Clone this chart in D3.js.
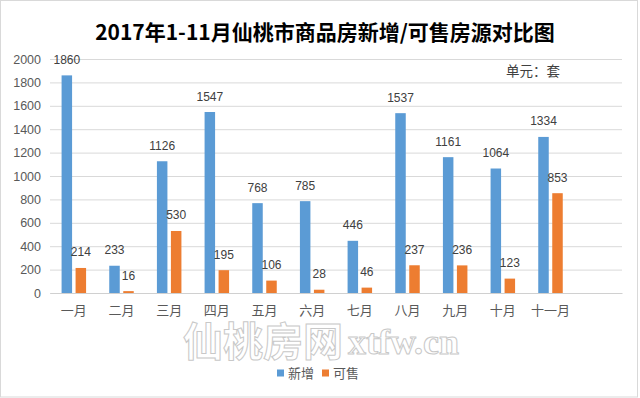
<!DOCTYPE html>
<html>
<head>
<meta charset="utf-8">
<script src="https://cdn.jsdelivr.net/npm/d3@7"></script>
<style>
  body { margin: 0; background: #fff; }
  svg { display: block; }
  text { font-family: "Liberation Sans", "Noto Sans CJK SC", sans-serif; }
</style>
</head>
<body>
<svg id="chart" width="640" height="398"></svg>
<script>
// data
const months = ["一月", "二月", "三月", "四月", "五月", "六月", "七月", "八月", "九月", "十月", "十一月", ""];
const newSupply = [1860, 233, 1126, 1547, 768, 785, 446, 1537, 1161, 1064, 1334];
const forSale = [214, 16, 530, 195, 106, 28, 46, 237, 236, 123, 853];
const yTicks = [0, 200, 400, 600, 800, 1000, 1200, 1400, 1600, 1800, 2000];
const seriesNames = ["新增", "可售"];
const colors = ["#5B9BD5", "#ED7D31"];

const svg = d3.select("#chart");

svg.append("rect")
    .attr("x", 0.5).attr("y", 0.5)
    .attr("width", 637).attr("height", 396.5)
    .attr("fill", "#fff")
    .attr("stroke", "#d9d9d9");

const margin = { top: 59, left: 50 },
      width = 572,
      height = 234;

const x = d3.scaleBand()
    .domain(months)
    .range([0, width]);

const y = d3.scaleLinear()
    .domain([0, 2000])
    .range([height, 0]);

const g = svg.append("g")
    .attr("transform", `translate(${margin.left},${margin.top})`);

// gridlines + y labels
const yAxis = g.append("g")
    .call(d3.axisLeft(y).tickValues(yTicks).tickFormat(d3.format("d")).tickSize(-width).tickPadding(9));
yAxis.select(".domain").remove();
yAxis.selectAll(".tick line").attr("stroke", "#d9d9d9");
yAxis.selectAll(".tick text")
    .attr("fill", "#595959")
    .style("font-size", "12.5px");

// x axis
const xAxis = g.append("g")
    .attr("transform", `translate(0,${height})`)
    .call(d3.axisBottom(x).tickSize(0).tickPadding(13));
xAxis.select(".domain").attr("stroke", "#d0d0d0");
xAxis.selectAll(".tick text")
    .attr("fill", "#595959")
    .style("font-family", "'Noto Sans CJK SC', sans-serif")
    .style("font-size", "13px");

const barW = 10.5, off = 7;
const series = [newSupply, forSale];

series.forEach((vals, i) => {
    const cx = (d, j) => x(months[j]) + x.bandwidth() / 2 + (i === 0 ? -off : off);

    g.selectAll(".bar" + i)
        .data(vals)
        .enter().append("rect")
        .attr("x", (d, j) => cx(d, j) - barW / 2)
        .attr("y", d => y(d))
        .attr("width", barW)
        .attr("height", d => height - y(d))
        .attr("fill", colors[i]);

    g.selectAll(".label" + i)
        .data(vals)
        .enter().append("text")
        .attr("x", (d, j) => cx(d, j))
        .attr("y", d => y(d) - 11.5)
        .attr("text-anchor", "middle")
        .attr("fill", "#404040")
        .style("font-size", "12px")
        .text(d => d);
});

// title
svg.append("text")
    .attr("x", 325)
    .attr("y", 40)
    .attr("text-anchor", "middle")
    .attr("fill", "#000")
    .style("font-family", "'Noto Sans CJK SC', sans-serif")
    .style("font-weight", "700")
    .style("font-size", "21px")
    .text("2017年1-11月仙桃市商品房新增/可售房源对比图");

// unit
svg.append("text")
    .attr("x", 533)
    .attr("y", 75.5)
    .attr("text-anchor", "middle")
    .attr("fill", "#404040")
    .style("font-family", "'Noto Sans CJK SC', sans-serif")
    .style("font-size", "13.5px")
    .text("单元：套");

// watermark
svg.append("text")
    .attr("x", 183)
    .attr("y", 356)
    .attr("fill", "#fff")
    .attr("stroke", "#c8c8c8")
    .attr("stroke-width", 1)
    .style("font-family", "'Noto Sans CJK SC', sans-serif")
    .style("font-weight", "700")
    .style("font-size", "40px")
    .text("仙桃房网");

svg.append("text")
    .attr("x", 348)
    .attr("y", 354)
    .attr("fill", "#fff")
    .attr("stroke", "#c8c8c8")
    .attr("stroke-width", 1)
    .style("font-family", "'Liberation Serif', serif")
    .style("font-weight", "700")
    .style("font-size", "36px")
    .text("xtfw.cn");

// legend
const legend = svg.append("g").attr("transform", "translate(277,373)");
const legendX = [0, 45];
seriesNames.forEach((name, i) => {
    legend.append("rect")
        .attr("x", legendX[i]).attr("y", -3.5)
        .attr("width", 7).attr("height", 7)
        .attr("fill", colors[i]);
    legend.append("text")
        .attr("x", legendX[i] + 11)
        .attr("y", 5)
        .attr("fill", "#595959")
        .style("font-family", "'Noto Sans CJK SC', sans-serif")
        .style("font-size", "13px")
        .text(name);
});
</script>
</body>
</html>
